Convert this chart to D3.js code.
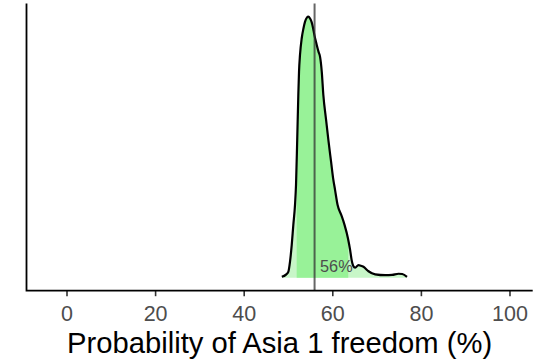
<!DOCTYPE html>
<html>
<head>
<meta charset="utf-8">
<script src="https://cdn.jsdelivr.net/npm/d3@7"></script>
<style>
  body { margin: 0; background: #fff; }
  svg { display: block; font-family: Arial, "Liberation Sans", sans-serif; }
</style>
</head>
<body>
<div id="chart"></div>
<script>
// posterior draws summarised as a density curve
const densityX = [48.6, 49.55, 50.07, 50.45, 50.84, 51.2, 51.58, 51.81, 52.08, 52.33, 52.49, 52.71,
  53.1, 53.51, 53.85, 54.3, 54.59, 54.98, 55.32, 55.66, 55.95, 56.49, 56.9, 57.24, 57.62, 57.98,
  58.6, 59.12, 59.73, 60.18, 60.63, 61.2, 62.04, 62.78, 63.53, 64.03, 64.37, 64.71, 65.16, 65.9,
  66.4, 67.04, 68.17, 69.68, 71.95, 73.5, 74.95, 75.8, 76.86];
const densityY = [0.0003, 0.0011, 0.0021, 0.0057, 0.0117, 0.0189, 0.0261, 0.0333, 0.0495, 0.0657,
  0.0741, 0.0801, 0.0861, 0.0898, 0.0921, 0.0936, 0.0939, 0.0932, 0.092, 0.0898, 0.0873, 0.0837,
  0.0812, 0.0794, 0.0741, 0.0657, 0.0567, 0.0495, 0.0416, 0.0358, 0.0315, 0.0261, 0.0225, 0.0189,
  0.0142, 0.0099, 0.0063, 0.0043, 0.0036, 0.0045, 0.0043, 0.0039, 0.0023, 0.0012, 0.0009, 0.001,
  0.0014, 0.0013, 0.0003];
const interval = [51.96, 63.6];
const medianValue = 56;
const xTicks = [0, 20, 40, 60, 80, 100];
const xTitle = 'Probability of Asia 1 freedom (%)';

const width = 553, height = 361;
const panel = { left: 26.5, right: 532.7, top: 3.5, bottom: 290.7 };

const svg = d3.select('#chart').append('svg')
  .attr('width', width)
  .attr('height', height);

const x = d3.scaleLinear()
  .domain([-9.03, 105.24])
  .range([panel.left, panel.right]);

const yMax = d3.max(densityY);
const y = d3.scaleLinear()
  .domain([-0.05 * yMax, 1.05 * yMax])
  .range([panel.bottom, panel.top]);

const pts = densityX.map((v, i) => ({ v, d: densityY[i] }));

const area = d3.area()
  .x(p => x(p.v))
  .y0(y(0))
  .y1(p => y(p.d))
  .curve(d3.curveMonotoneX);

const line = d3.line()
  .x(p => x(p.v))
  .y(p => y(p.d))
  .curve(d3.curveMonotoneX);

svg.append('clipPath')
  .attr('id', 'mid')
  .append('rect')
  .attr('x', x(interval[0]))
  .attr('y', panel.top)
  .attr('width', x(interval[1]) - x(interval[0]))
  .attr('height', panel.bottom - panel.top);

// whole density, pale
svg.append('path')
  .datum(pts)
  .attr('d', area)
  .attr('fill', '#c8f6c8');

// central interval, stronger green
svg.append('path')
  .datum(pts)
  .attr('d', area)
  .attr('fill', '#98f298')
  .attr('clip-path', 'url(#mid)');

svg.append('path')
  .datum(pts)
  .attr('d', line)
  .attr('fill', 'none')
  .attr('stroke', '#000')
  .attr('stroke-width', 2.2)
  .attr('stroke-linejoin', 'round');

svg.append('line')
  .attr('x1', x(medianValue))
  .attr('x2', x(medianValue))
  .attr('y1', panel.top)
  .attr('y2', panel.bottom)
  .attr('stroke', '#333')
  .attr('stroke-opacity', 0.75)
  .attr('stroke-width', 2);

svg.append('text')
  .attr('x', x(medianValue) + 5.5)
  .attr('y', 271.5)
  .attr('font-size', 16.3)
  .attr('fill', '#4d4d4d')
  .text(medianValue + '%');

// axes
const xAxis = svg.append('g')
  .attr('transform', `translate(0,${panel.bottom})`)
  .call(d3.axisBottom(x).tickValues(xTicks).tickSize(5.5).tickPadding(0).tickSizeOuter(0));
xAxis.select('.domain').remove();
xAxis.selectAll('.tick line').attr('stroke', '#333').attr('stroke-width', 1.6);
xAxis.selectAll('.tick text')
  .attr('dy', null)
  .attr('y', 30.5)
  .attr('font-size', 21.5)
  .attr('font-family', 'Arial, "Liberation Sans", sans-serif')
  .attr('fill', '#4d4d4d');

svg.append('path')
  .attr('d', `M${panel.left},${panel.top}V${panel.bottom}H${panel.right}`)
  .attr('fill', 'none')
  .attr('stroke', '#000')
  .attr('stroke-width', 1.8);

svg.append('text')
  .attr('x', (panel.left + panel.right) / 2)
  .attr('y', 352.5)
  .attr('text-anchor', 'middle')
  .attr('font-size', 29.2)
  .attr('fill', '#000')
  .text(xTitle);
</script>
</body>
</html>
